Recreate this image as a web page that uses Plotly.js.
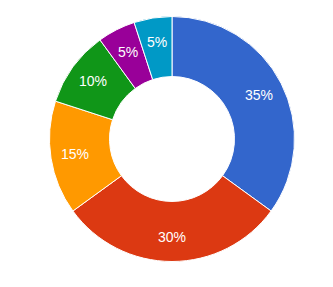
<!DOCTYPE html>
<html>
<head>
<meta charset="utf-8">
<script src="https://cdn.plot.ly/plotly-3.0.1.min.js"></script>
<style>
  html, body { margin: 0; padding: 0; background: #fff; }
  #chart { width: 333px; height: 287px; }
</style>
</head>
<body>
<div id="chart"></div>
<script>
// Slice categories, shares and colours
const categories = ["A", "B", "C", "D", "E", "F"];
const shares = [35, 30, 15, 10, 5, 5];
const sliceColors = ["#3366cc", "#dc3912", "#ff9900", "#109618", "#990099", "#0099c6"];

const W = 333, H = 287;
const cx = 172, cy = 139, r = 122.5;
const labelRadius = 0.8; // fraction of outer radius where percent labels sit

const total = shares.reduce((a, b) => a + b, 0);

const trace = {
  type: "pie",
  labels: categories,
  values: shares,
  sort: false,
  direction: "clockwise",
  rotation: 0,
  hole: 0.51,
  textinfo: "none",
  marker: { colors: sliceColors, line: { color: "#ffffff", width: 1 } },
  domain: {
    x: [(cx - r) / W, (cx + r) / W],
    y: [1 - (cy + r) / H, 1 - (cy - r) / H]
  },
  showlegend: false,
  hoverinfo: "label+percent"
};

// Percent labels placed at each slice's mid-angle, clockwise from 12 o'clock
let cum = 0;
const annotations = shares.map((v) => {
  const mid = (cum + v / 2) / total * 2 * Math.PI;
  cum += v;
  const px = cx + labelRadius * r * Math.sin(mid);
  const py = cy - labelRadius * r * Math.cos(mid);
  return {
    xref: "paper", yref: "paper",
    x: px / W, y: 1 - py / H,
    xanchor: "center", yanchor: "middle",
    text: Math.round(v / total * 100) + "%",
    showarrow: false,
    font: { family: "Arial, Liberation Sans, sans-serif", size: 14, color: "#ffffff" }
  };
});

const layout = {
  width: W,
  height: H,
  margin: { l: 0, r: 0, t: 0, b: 0 },
  paper_bgcolor: "#ffffff",
  showlegend: false,
  annotations: annotations
};

Plotly.newPlot("chart", [trace], layout, { displayModeBar: false, staticPlot: true });
</script>
</body>
</html>
